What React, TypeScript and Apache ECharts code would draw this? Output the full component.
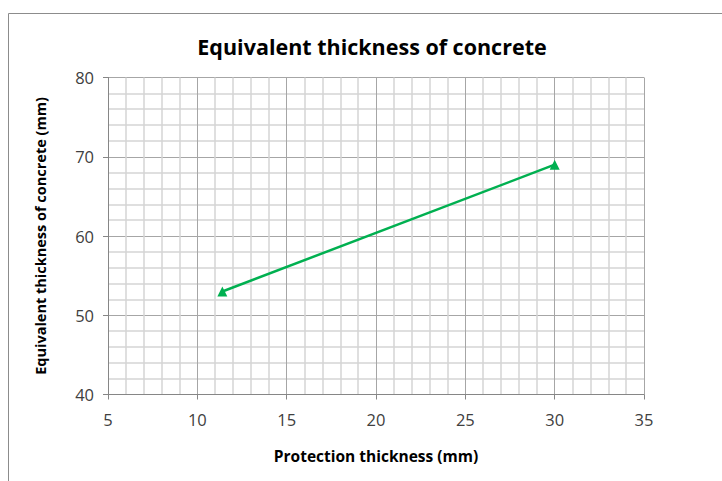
import React, { useEffect, useRef } from "react";
import * as echarts from "echarts";

const titleText = "Equivalent thickness of concrete";
const xAxisName = "Protection thickness (mm)";
const yAxisName = "Equivalent thickness of concrete (mm)";
const protectionThickness = [11.4, 30];
const equivalentThickness = [53, 69];
const xRange = [5, 35];
const yRange = [40, 80];

export default function App() {
  const ref = useRef<HTMLDivElement>(null);
  useEffect(() => {
    if (!ref.current) return;
    const chart = echarts.init(ref.current, null, { renderer: "svg" });
    const font = "Open Sans";
    chart.setOption({
      animation: false,
      backgroundColor: "#ffffff",
      graphic: [
        {
          type: "rect",
          shape: { x: 8.5, y: 13.5, width: 760, height: 520 },
          style: { fill: "none", stroke: "#8c8c8c", lineWidth: 1 },
          silent: true,
        },
        {
          type: "text",
          x: 372,
          y: 46,
          style: {
            text: titleText,
            fontFamily: font,
            fontSize: 21.5,
            fontWeight: "bold",
            fill: "#000000",
            textAlign: "center",
            textVerticalAlign: "middle",
          },
        },
      ],
      grid: { left: 108, right: 78, top: 77.5, bottom: 86.5, containLabel: false },
      xAxis: {
        type: "value",
        min: xRange[0],
        max: xRange[1],
        interval: 5,
        name: xAxisName,
        nameLocation: "middle",
        nameGap: 53,
        nameTextStyle: { fontFamily: font, fontSize: 15.5, fontWeight: "bold", color: "#000" },
        axisLine: { show: true, lineStyle: { color: "#868686", width: 1 } },
        axisTick: { show: true, inside: false, length: 5, lineStyle: { color: "#868686" } },
        axisLabel: { fontFamily: font, fontSize: 16.5, color: "#404040", margin: 16 },
        splitLine: { show: true, lineStyle: { color: "#a6a6a6", width: 1 } },
        minorTick: { show: false, splitNumber: 5 },
        minorSplitLine: { show: true, lineStyle: { color: "#d4d4d4", width: 1.5 } },
      },
      yAxis: {
        type: "value",
        min: yRange[0],
        max: yRange[1],
        interval: 10,
        name: yAxisName,
        nameLocation: "middle",
        nameGap: 60,
        nameTextStyle: { fontFamily: font, fontSize: 14.5, fontWeight: "bold", color: "#000" },
        axisLine: { show: true, lineStyle: { color: "#868686", width: 1 } },
        axisTick: { show: true, inside: false, length: 5, lineStyle: { color: "#868686" } },
        axisLabel: { fontFamily: font, fontSize: 16.5, color: "#404040", margin: 14 },
        splitLine: { show: true, lineStyle: { color: "#a6a6a6", width: 1 } },
        minorTick: { show: false, splitNumber: 5 },
        minorSplitLine: { show: true, lineStyle: { color: "#d4d4d4", width: 1.5 } },
      },
      series: [
        {
          type: "line",
          data: protectionThickness.map((x, i) => [x, equivalentThickness[i]]),
          symbol: "triangle",
          symbolSize: 10,
          lineStyle: { color: "#00B050", width: 2.5 },
          itemStyle: { color: "#00B050" },
        },
      ],
    });
    return () => chart.dispose();
  }, []);
  return (
    <div
      ref={ref}
      style={{ position: "fixed", left: 0, top: 0, width: 722, height: 481 }}
    />
  );
}
